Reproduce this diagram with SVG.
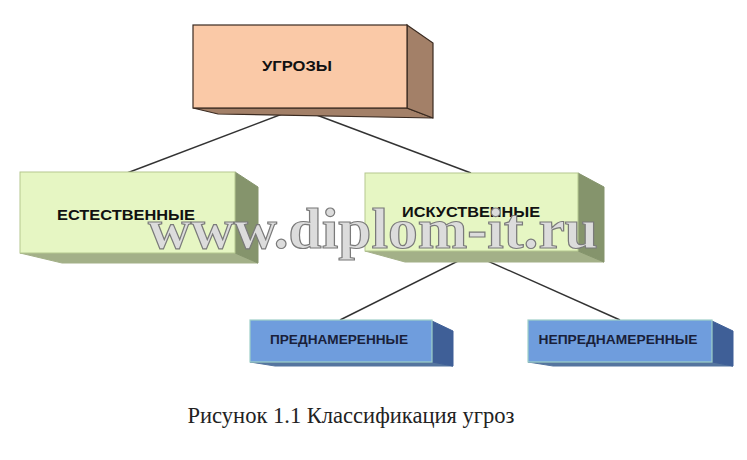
<svg xmlns="http://www.w3.org/2000/svg" width="747" height="460" viewBox="0 0 747 460">
<style>
.peach{fill:#fac9a7;stroke:#3a2a20;stroke-width:1.2}
.peachS{fill:#a38068;stroke:#3a2a20;stroke-width:1.2}
.green{fill:#e6f6c3;stroke:#b5c88f;stroke-width:1}
.greenS{fill:#85946c;stroke:#85946c;stroke-width:1}
.greenB{fill:#a3b088;stroke:#a3b088;stroke-width:1}
.blue{fill:#6f9ddd;stroke:#9fd0c8;stroke-width:1.2}
.blueS{fill:#3f5f97;stroke:#3f5f97;stroke-width:1}
.blueB{fill:#55759f;stroke:#55759f;stroke-width:1}
.lbl{font-family:"Liberation Sans",Arial,sans-serif;font-weight:bold;fill:#111;text-anchor:middle}
.lblB{font-family:"Liberation Sans",Arial,sans-serif;font-weight:bold;fill:#1a1f3a;text-anchor:middle}
.conn line{stroke:#333;stroke-width:1.4}
</style>
<rect width="747" height="460" fill="#ffffff"/>
<g class="conn" id="connectors">
<line x1="298" y1="108" x2="127" y2="173"/>
<line x1="298" y1="108" x2="471" y2="173"/>
<line x1="472" y1="254" x2="340" y2="320"/>
<line x1="472" y1="254" x2="620" y2="320"/>
</g>
<g id="node-ugrozy">
<polygon class="peachS" points="193,108 407,108 433,118 218,114"/>
<polygon class="peachS" points="407,25 433,43 433,118 407,108"/>
<rect class="peach" x="193" y="25" width="214" height="83"/>
<text class="lbl" x="297" y="71" font-size="15" textLength="70" lengthAdjust="spacingAndGlyphs">УГРОЗЫ</text>
</g>
<g id="node-estestvennye">
<polygon class="greenB" points="20,253 235,253 258,263 62,263"/>
<polygon class="greenS" points="235,172 258,187 258,263 235,253"/>
<rect class="green" x="20" y="172" width="215" height="81"/>
<text class="lbl" x="126" y="220" font-size="15" textLength="138" lengthAdjust="spacingAndGlyphs">ЕСТЕСТВЕННЫЕ</text>
</g>
<g id="node-iskustvennye">
<polygon class="greenB" points="365,251 578,251 604,262 405,262"/>
<polygon class="greenS" points="578,173 604,187 604,262 578,251"/>
<rect class="green" x="365" y="173" width="213" height="78"/>
<text class="lbl" x="471" y="217" font-size="15" textLength="138" lengthAdjust="spacingAndGlyphs">ИСКУСТВЕННЫЕ</text>
</g>
<g id="node-prednamerennye">
<polygon class="blueB" points="250,362 432,362 453,366 275,366"/>
<polygon class="blueS" points="432,321 453,331 453,366 432,362"/>
<rect class="blue" x="250" y="320" width="182" height="42"/>
<text class="lblB" x="339" y="344" font-size="13" textLength="138" lengthAdjust="spacingAndGlyphs">ПРЕДНАМЕРЕННЫЕ</text>
</g>
<g id="node-neprednamerennye">
<polygon class="blueB" points="528,362 712,362 733,366 553,366"/>
<polygon class="blueS" points="712,321 733,331 733,366 712,362"/>
<rect class="blue" x="528" y="320" width="184" height="42"/>
<text class="lblB" x="618" y="344" font-size="13" textLength="159" lengthAdjust="spacingAndGlyphs">НЕПРЕДНАМЕРЕННЫЕ</text>
</g>
<text x="373" y="248" font-family="'Liberation Serif','Times New Roman',serif" font-weight="bold" font-size="58" text-anchor="middle" textLength="450" lengthAdjust="spacingAndGlyphs" fill="#dcdcdc" stroke="#7a7a7a" stroke-width="1.2">www.diplom-it.ru</text>
<text x="351" y="423" font-family="'Liberation Serif','Times New Roman',serif" font-size="22.5" text-anchor="middle" fill="#222" textLength="327" lengthAdjust="spacingAndGlyphs">Рисунок 1.1 Классификация угроз</text>
</svg>
